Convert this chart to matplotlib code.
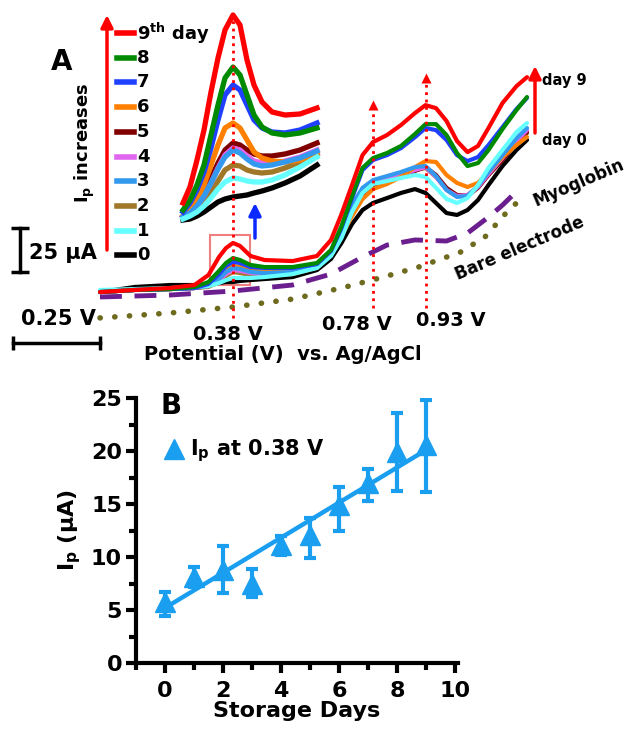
import matplotlib
matplotlib.use("Agg")
import matplotlib.pyplot as plt
from matplotlib.lines import Line2D
from matplotlib.patches import Rectangle
from matplotlib.ticker import MultipleLocator

plt.rcParams["font.family"] = ["DejaVu Sans"]
plt.rcParams["font.weight"] = "bold"
plt.rcParams["axes.labelweight"] = "bold"
plt.rcParams["mathtext.fontset"] = "dejavusans"
plt.rcParams["mathtext.default"] = "bf"

# ---- panel A: DPV curves (potential V, current uA) ----
E_main = [0.00, 0.10, 0.20, 0.27, 0.31, 0.34, 0.36, 0.38, 0.40, 0.43, 0.47,
          0.55, 0.62, 0.66, 0.69, 0.72, 0.75, 0.78, 0.82, 0.86, 0.90, 0.93,
          0.96, 0.99, 1.02, 1.05, 1.08, 1.11, 1.15, 1.19, 1.22]
main_d0 = [10.2, 13.1, 14.2, 14.2, 14.8, 15.3, 15.9, 15.9, 16.5, 17.0, 17.6,
           18.7, 22.7, 29.0, 38.1, 48.8, 56.8, 60.8, 63.6, 66.5, 68.7, 66.5,
           60.8, 55.1, 54.0, 56.8, 62.5, 71.0, 81.8, 90.9, 96.6]
main_d1 = [11.4, 11.9, 12.5, 13.1, 13.6, 15.3, 17.0, 18.2, 18.2, 18.2, 18.7,
           20.4, 23.9, 30.7, 40.9, 55.7, 66.5, 71.6, 73.3, 75.0, 76.7, 75.6,
           69.4, 63.1, 60.8, 63.6, 71.0, 80.7, 90.9, 101.1, 106.2]
main_d2 = [10.2, 11.4, 11.9, 12.5, 13.1, 15.9, 19.3, 21.6, 21.0, 19.9, 19.9,
           20.4, 23.9, 31.2, 42.0, 55.1, 65.3, 70.4, 72.7, 76.1, 79.5, 80.7,
           75.6, 68.7, 65.3, 65.3, 69.9, 77.3, 86.4, 94.9, 100.5]
main_d3 = [10.2, 11.4, 11.9, 12.5, 13.6, 17.6, 21.6, 23.9, 23.3, 21.6, 21.0,
           21.6, 25.0, 33.0, 45.4, 59.6, 69.4, 73.8, 76.1, 78.4, 81.2, 81.8,
           76.1, 68.2, 64.2, 64.8, 70.4, 78.4, 88.0, 97.6, 103.4]
main_d4 = [10.2, 11.4, 11.9, 12.5, 13.6, 17.0, 20.4, 22.7, 22.2, 21.0, 20.4,
           21.0, 24.4, 31.8, 43.2, 56.8, 67.0, 72.2, 74.4, 76.7, 79.5, 81.2,
           75.6, 68.2, 64.8, 65.3, 69.9, 77.3, 86.4, 96.0, 102.2]
main_d5 = [10.2, 11.4, 11.9, 12.5, 13.6, 17.0, 21.0, 23.3, 22.7, 21.6, 21.0,
           21.6, 25.0, 32.4, 43.2, 55.1, 65.3, 70.4, 72.7, 75.6, 79.0, 81.2,
           76.7, 69.4, 65.3, 64.8, 69.4, 76.7, 85.2, 94.9, 101.1]
main_d6 = [10.2, 11.4, 11.9, 12.5, 13.6, 18.2, 22.7, 25.0, 24.4, 22.7, 21.6,
           21.6, 25.0, 32.4, 42.0, 53.4, 63.0, 68.7, 71.6, 75.6, 81.2, 84.6,
           84.1, 76.7, 72.2, 69.9, 72.2, 78.4, 86.9, 93.7, 98.3]
main_d7 = [10.2, 11.4, 11.9, 12.5, 14.8, 20.4, 25.0, 27.3, 26.7, 24.4, 23.9,
           23.9, 26.1, 33.5, 46.6, 63.6, 79.5, 85.2, 88.0, 92.0, 98.2, 103.4,
           102.2, 96.6, 88.0, 84.6, 86.9, 93.7, 103.9, 114.2, 120.5]
main_d8 = [10.2, 11.4, 11.9, 13.1, 15.9, 22.2, 26.7, 29.5, 28.4, 25.6, 24.4,
           24.4, 26.7, 34.1, 47.7, 64.8, 80.7, 86.3, 89.2, 93.2, 100.0, 105.6,
           105.6, 99.4, 89.2, 81.8, 83.5, 90.9, 102.8, 113.6, 121.0]
main_d9 = [10.2, 11.4, 12.5, 14.2, 19.9, 30.1, 35.2, 38.1, 36.4, 30.7, 28.4,
           27.8, 30.7, 39.8, 54.5, 71.0, 88.0, 95.4, 99.4, 105.1, 111.9, 116.4,
           114.7, 107.4, 96.0, 89.7, 93.2, 103.4, 117.6, 127.2, 132.3]

E_myo = [0.00, 0.20, 0.38, 0.55, 0.66, 0.75, 0.82, 0.90, 0.99, 1.05, 1.11, 1.15, 1.20]
I_myo = [7.4, 8.5, 10.8, 14.2, 20.4, 30.1, 36.9, 39.8, 39.2, 43.7, 52.8, 59.6, 69.3]
E_bare = [0.00, 0.20, 0.38, 0.55, 0.69, 0.80, 0.91, 1.03, 1.10, 1.16, 1.19]
I_bare = [-4.5, -1.7, 1.7, 6.2, 12.5, 18.2, 24.4, 32.9, 41.5, 55.1, 60.8]

# inset: magnified 0.38 V peak (arbitrary units)
E_inset = [0.280, 0.294, 0.308, 0.322, 0.336, 0.350, 0.364, 0.380,
           0.394, 0.408, 0.422, 0.438, 0.458, 0.484, 0.514, 0.548]
inset_d0 = [0.5, 0.6, 0.9, 1.3, 1.8, 2.3, 2.6, 2.8, 2.9, 3.0, 3.2, 3.4, 3.7, 4.2, 4.9, 6.0]
inset_d1 = [0.6, 0.9, 1.3, 1.9, 2.7, 3.6, 4.3, 4.7, 4.6, 4.4, 4.3, 4.3, 4.5, 5.0, 5.8, 6.8]
inset_d2 = [0.7, 1.0, 1.5, 2.3, 3.3, 4.4, 5.5, 6.0, 5.9, 5.5, 5.3, 5.2, 5.3, 5.7, 6.3, 7.1]
inset_d3 = [0.8, 1.2, 1.9, 2.9, 4.2, 5.6, 6.8, 7.5, 7.2, 6.6, 6.1, 5.9, 6.0, 6.3, 6.7, 7.4]
inset_d4 = [0.8, 1.2, 1.9, 2.9, 4.2, 5.7, 7.0, 7.7, 7.5, 6.9, 6.4, 6.2, 6.2, 6.4, 6.8, 7.5]
inset_d5 = [0.8, 1.3, 2.1, 3.3, 4.7, 6.2, 7.5, 8.2, 8.0, 7.5, 7.1, 6.9, 6.9, 7.1, 7.5, 8.2]
inset_d6 = [0.9, 1.5, 2.5, 4.0, 6.0, 8.0, 9.7, 10.2, 9.7, 8.5, 7.3, 6.7, 6.4, 6.3, 6.5, 7.2]
inset_d7 = [1.3, 2.2, 3.5, 5.3, 7.7, 10.5, 13.0, 14.0, 13.5, 12.0, 10.5, 9.7, 9.3, 9.2, 9.5, 10.2]
inset_d8 = [1.5, 2.5, 4.0, 6.0, 9.0, 12.0, 14.7, 15.8, 15.0, 13.0, 11.0, 9.8, 9.2, 9.0, 9.2, 9.7]
inset_d9 = [2.2, 3.8, 6.5, 9.5, 13.3, 16.7, 19.5, 21.0, 20.0, 16.5, 14.0, 12.3, 11.3, 11.0, 11.1, 11.7]

day_labels = ["0", "1", "2", "3", "4", "5", "6", "7", "8", "9$^{th}$ day"]
day_colors = ["#000000", "#66ffff", "#a07828", "#3399ee", "#e066f0",
              "#800000", "#ff8000", "#2040ff", "#008a00", "#ff0000"]
peak_E = [0.38, 0.78, 0.93]

# ---- panel B: peak current vs storage days ----
days = [0, 1, 2, 3, 4, 5, 6, 7, 8, 9]
ip = [5.8, 8.1, 8.8, 7.5, 11.1, 12.1, 14.9, 17.0, 19.9, 20.6]
ip_err_lo = [1.4, 0.9, 2.2, 1.3, 0.9, 2.2, 2.4, 1.7, 3.7, 4.5]
ip_err_hi = [0.9, 1.0, 2.2, 1.4, 0.9, 1.6, 1.7, 1.3, 3.7, 4.2]
fit_days = [0, 9]
fit_ip = [5.2, 20.1]

W, H = 630, 732
fig = plt.figure(figsize=(W / 100, H / 100), dpi=100)


def fx(x):
    return x / W


def fy(y):
    return 1 - y / H


def px2d(x, y):
    # pixel position -> panel A data coordinates (V, uA)
    return 0.38 + (x - 233) / 350, (310 - y) * 25 / 44


main_curves = [main_d0, main_d1, main_d2, main_d3, main_d4,
               main_d5, main_d6, main_d7, main_d8, main_d9]
inset_curves = [inset_d0, inset_d1, inset_d2, inset_d3, inset_d4,
                inset_d5, inset_d6, inset_d7, inset_d8, inset_d9]
draw_order = [0, 2, 5, 4, 6, 3, 1, 7, 8, 9]

# main panel A
axA = fig.add_axes([0, fy(360), 1, 360 / H])
x0, y0 = px2d(0, 360)
x1, y1 = px2d(W, 0)
axA.set_xlim(x0, x1)
axA.set_ylim(y0, y1)
axA.axis("off")
axA.set_zorder(2)

axA.plot(E_bare, I_bare, color="#6e6a1e", lw=4, linestyle=(0, (0.05, 2.6)),
         dash_capstyle="round")
axA.plot(E_myo, I_myo, color="#6b1f8f", lw=3.5, linestyle=(0, (4.5, 2.6)))
for d in draw_order:
    axA.plot(E_main, main_curves[d], color=day_colors[d], lw=3,
             solid_joinstyle="round", solid_capstyle="round")

# dotted peak markers
lo = px2d(0, 318)[1]
axA.plot([peak_E[0]] * 2, [lo, px2d(0, 20)[1]], ":", color="red", lw=2, zorder=5)
for e, ytip in zip(peak_E[1:], [105, 78]):
    top = px2d(0, ytip)[1]
    axA.plot([e, e], [px2d(0, 308)[1], top], ":", color="red", lw=2)
    axA.plot(e, top, marker="^", ms=7, color="red", mec="none")

# box around the peak shown in the inset
bx0, by0 = px2d(210, 285)
bx1, by1 = px2d(250, 235)
axA.add_patch(Rectangle((bx0, by0), bx1 - bx0, by1 - by0, fill=False,
                        ec="#f08080", lw=1.5))

# scale bars
sx, sy0 = px2d(20, 272)
axA.plot([sx, sx], [sy0, sy0 + 25], color="black", lw=2.5)
axA.plot([sx, sx], [sy0, sy0 + 25], "_", color="black", ms=13, mew=2.5)
hx, hy = px2d(100, 343)
axA.plot([hx - 0.25, hx], [hy, hy], color="black", lw=2.5)
axA.plot([hx - 0.25, hx], [hy, hy], "|", color="black", ms=10, mew=2.5)

# arrows
arw = dict(arrowstyle="-|>", lw=2.5, mutation_scale=18, shrinkA=0, shrinkB=0)
axA.annotate("", xy=px2d(255, 203), xytext=px2d(255, 238),
             arrowprops=dict(color="#0a28ff", **arw))
axA.annotate("", xy=px2d(535, 66), xytext=px2d(535, 133),
             arrowprops=dict(color="red", **arw))
axA.annotate("", xy=px2d(107, 15), xytext=px2d(107, 250),
             arrowprops=dict(color="red", **arw))

# inset
axI = fig.add_axes([fx(183), fy(225), 134 / W, 215 / H])
axI.set_xlim(E_inset[0], E_inset[-1])
axI.set_ylim(0, 21.5)
axI.axis("off")
axI.set_zorder(1)
for d in draw_order:
    axI.plot(E_inset, inset_curves[d], color=day_colors[d], lw=3.8,
             solid_joinstyle="round", clip_on=False)

# legend of panel A
for i, d in enumerate(range(9, -1, -1)):
    yy = 33 + 24.7 * i
    fig.add_artist(Line2D([fx(117), fx(134)], [fy(yy), fy(yy)], lw=4,
                          color=day_colors[d], transform=fig.transFigure))
    fig.text(fx(137), fy(yy), day_labels[d], fontsize=13, va="center", ha="left")

fig.text(fx(62), fy(62), "A", fontsize=20, ha="center", va="center")
fig.text(fx(85), fy(143), "I$_p$ increases", fontsize=13, rotation=90,
         ha="center", va="center")
fig.text(fx(63), fy(253), "25 μA", fontsize=15, ha="center", va="center")
fig.text(fx(58), fy(319), "0.25 V", fontsize=15, ha="center", va="center")
for e, (xx, yy) in zip(peak_E, [(228, 335), (357, 325), (451, 320)]):
    fig.text(fx(xx), fy(yy), f"{e:.2f} V", fontsize=14, ha="center", va="center")
fig.text(fx(283), fy(355), "Potential (V)  vs. Ag/AgCl", fontsize=14,
         ha="center", va="center")
fig.text(fx(542), fy(80), "day 9", fontsize=10.5, ha="left", va="center")
fig.text(fx(542), fy(140), "day 0", fontsize=10.5, ha="left", va="center")
fig.text(fx(579), fy(183), "Myoglobin", fontsize=12, rotation=23,
         ha="center", va="center")
fig.text(fx(520), fy(248), "Bare electrode", fontsize=12, rotation=23,
         ha="center", va="center")

# panel B
c = "#1a9ff0"
axB = fig.add_axes([fx(136), fy(663), 322 / W, 265 / H])
axB.plot(fit_days, fit_ip, color=c, lw=3.2, zorder=2)
axB.errorbar(days, ip, yerr=[ip_err_lo, ip_err_hi], fmt="^", ms=15, color=c,
             ecolor=c, elinewidth=3, capsize=4, capthick=3, zorder=3)
axB.set_xlim(-1.0, 10.1)
axB.set_ylim(0, 25)
axB.xaxis.set_major_locator(MultipleLocator(2))
axB.xaxis.set_minor_locator(MultipleLocator(1))
axB.yaxis.set_major_locator(MultipleLocator(5))
axB.yaxis.set_minor_locator(MultipleLocator(2.5))
for s in ["top", "right"]:
    axB.spines[s].set_visible(False)
for s in ["left", "bottom"]:
    axB.spines[s].set_linewidth(3)
axB.tick_params(which="major", length=7, width=3, labelsize=16, pad=3)
axB.tick_params(axis="x", which="major", pad=6)
axB.tick_params(which="minor", length=5, width=3)
axB.set_xlabel("Storage Days", fontsize=16, labelpad=0)
axB.set_ylabel("I$_p$ (μA)", fontsize=16, labelpad=6)
axB.text(0.11, 0.97, "B", transform=axB.transAxes, fontsize=20,
         ha="center", va="center")
axB.legend(handles=[Line2D([], [], marker="^", ls="none", color=c, ms=15)],
           labels=["I$_p$ at 0.38 V"], loc="center left", frameon=False,
           bbox_to_anchor=(0.02, 0.80), fontsize=15, handletextpad=0.2,
           handlelength=1.2)

fig.savefig("out.png", dpi=100)
